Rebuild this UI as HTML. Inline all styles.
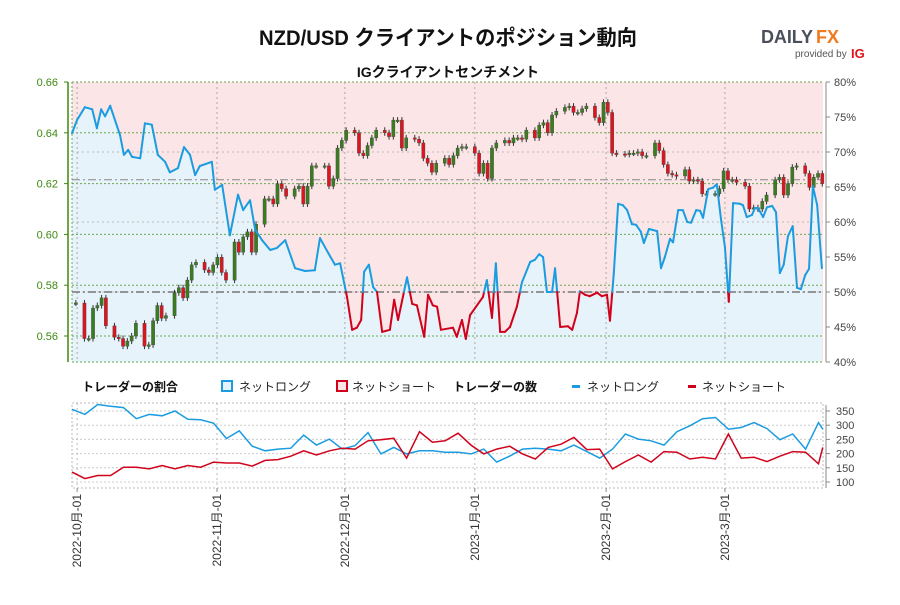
<!DOCTYPE html>
<html><head><meta charset="utf-8">
<style>
html,body{margin:0;padding:0;background:#fff;}
body{width:900px;height:600px;overflow:hidden;font-family:"Liberation Sans","Noto Sans CJK JP",sans-serif;}
svg text{font-family:"Liberation Sans","Noto Sans CJK JP",sans-serif;}
</style></head>
<body>
<svg id="chart" width="900" height="600" viewBox="0 0 900 600" xmlns="http://www.w3.org/2000/svg">
  <text x="448" y="45" text-anchor="middle" font-size="21" font-weight="bold" fill="#111" textLength="378" lengthAdjust="spacingAndGlyphs">NZD/USD クライアントのポジション動向</text>
  <g>
    <text x="761" y="43" font-size="18" font-weight="bold" fill="#4a4f5a" textLength="52" lengthAdjust="spacing">DAILY</text>
    <text x="816" y="43" font-size="18" font-weight="bold" fill="#f07a1e">FX</text>
    <text x="795" y="57" font-size="10" fill="#555">provided by</text>
    <text x="851" y="58" font-size="13" font-weight="bold" fill="#e3121b">IG</text>
  </g>
  <text x="448" y="77" text-anchor="middle" font-size="14" font-weight="bold" fill="#111">IGクライアントセンチメント</text>
  <g id="main"></g>
  <g id="legend">
    <text x="82" y="391" font-size="12" font-weight="bold" fill="#111">トレーダーの割合</text>
    <rect x="222" y="381" width="10" height="10" fill="#e6f3fb" stroke="#1b9ce0" stroke-width="2"/>
    <text x="239" y="391" font-size="12" fill="#222">ネットロング</text>
    <rect x="337" y="381" width="10" height="10" fill="#fbe5e6" stroke="#d0021b" stroke-width="2"/>
    <text x="352" y="391" font-size="12" fill="#222">ネットショート</text>
    <text x="453" y="391" font-size="12" font-weight="bold" fill="#111">トレーダーの数</text>
    <rect x="572" y="385" width="8" height="3" fill="#1b9ce0"/>
    <text x="587" y="391" font-size="12" fill="#222">ネットロング</text>
    <rect x="688" y="385" width="8" height="3" fill="#d0021b"/>
    <text x="702" y="391" font-size="12" fill="#222">ネットショート</text>
  </g>
  <g id="lower"></g>
</svg>
<script>
// ---- data ----
const priceTicks = [0.56, 0.58, 0.60, 0.62, 0.64, 0.66];
const pctTicks = [40, 45, 50, 55, 60, 65, 70, 75, 80];
const countTicks = [100, 150, 200, 250, 300, 350];
const monthLabels = ["2022-10月-01","2022-11月-01","2022-12月-01","2023-1月-01","2023-2月-01","2023-3月-01"];
const monthDays = [1.2, 33.8, 63.6, 93.9, 124.5, 152.2];
const lastPrice = 0.6215;
const closes = [0.573,0.559,0.559,0.571,0.572,0.575,0.564,0.5595,0.559,0.556,
0.558,0.560,0.565,0.556,0.5565,0.566,0.572,0.567,0.568,0.577,
0.579,0.575,0.582,0.588,0.589,0.586,0.585,0.588,0.591,0.585,
0.582,0.597,0.593,0.599,0.601,0.593,0.604,0.614,0.614,0.612,
0.620,0.618,0.615,0.618,0.619,0.612,0.619,0.627,0.627,0.627,
0.619,0.622,0.634,0.637,
0.641,0.640,0.632,0.631,0.635,0.638,0.641,0.640,0.6385,0.645,
0.645,0.634,0.638,0.6375,0.636,0.630,0.628,0.6245,0.628,0.630,
0.6275,0.631,0.634,0.6345,0.6345,0.632,0.624,0.628,0.622,0.634,
0.636,0.637,0.636,0.638,0.638,0.6375,0.641,0.638,0.643,0.644,
0.640,0.647,0.6485,0.650,0.6505,0.648,0.648,0.6495,0.6505,0.646,
0.644,0.652,0.648,0.632,
0.6317,0.6315,0.632,0.632,0.6325,0.631,0.631,0.636,0.633,0.6275,
0.624,0.6235,0.623,0.6255,0.621,0.6215,0.621,0.616,0.616,0.616,
0.618,0.625,0.6215,0.6215,0.6205,0.619,0.610,0.6105,0.610,0.613,
0.6155,0.6215,0.6225,0.6155,0.620,0.6265,0.627,0.624,0.6185,0.6225,
0.624,0.620];
const sentDays = [0,1.2,3,4.7,5.8,6.8,7.7,8.9,11.2,12.1,13.1,14,15.9,17,18.6,20,21.7,22.8,24.7,26.1,27.5,28.7,29.8,32.6,33.3,35,36.8,38.7,39.9,41.5,42.7,44.3,46.2,47.8,49.7,52,54.3,56.6,57.8,59.7,61.3,62.5,64.1,65.3,66.4,67.4,68.1,69.2,70.2,71.1,72.3,74.1,75.1,76,78.1,79.3,80.4,82.1,83,84.1,85.1,86,88.8,89.7,90.9,91.8,92.8,95.8,96.7,97.9,98.8,99.8,100.9,102.1,103.7,104.9,106.8,107.9,108.9,109.8,110.7,111.9,112.6,113.8,115.6,116.6,117.7,118.4,119.6,120.7,122.4,123.5,124.7,125.4,126.3,127.3,128.4,129.4,130.5,131.5,132.6,133.3,134.5,136.4,137.3,138.2,139.4,140.1,141.3,142.4,143.4,144.3,145.5,146.4,147.1,148.3,149.4,150.3,151.3,152.2,153.1,154.1,155.7,156.4,157.3,158.5,159.2,159.9,161.1,162,163.2,164.1,165,165.9,166.9,168,169,169.9,170.9,171.8,172.7,173.7,174.8];
const sentLong = [72.7,74.6,76.4,76.1,73.4,76.1,75.1,76.6,72.4,69.6,70.3,69.3,69.1,74.1,73.9,69.6,68.6,67.1,67.7,70.7,69.6,66.7,68,68.6,64.6,65.3,58.1,63.9,61.7,63.1,58.9,57.4,56,56.3,57.4,53.4,53,53.1,57.7,55.6,53.9,54.1,49.3,44.6,44.9,46,52.9,53.9,50.7,50,44.3,44.6,48.9,46,52.1,48.3,48.1,43.6,49.6,48.1,47.9,44.6,44.9,43.6,46,43.3,46.7,49.3,51.7,46.3,54.1,44.3,44.3,45,47.9,51.4,54.3,54.6,55.4,55,50,50,53.4,45,45.1,44.6,47,50.1,49.6,49.4,49.9,49.4,49.6,45.9,52.7,62.6,62.4,61.7,59.7,59.6,58.6,57,59,58.7,53.4,55,57.6,57.1,61.7,61.7,60,59.9,61.7,61.6,60.6,64.7,64.9,65.4,60.3,56.4,48.6,62.7,62.6,62.4,60.7,61,62,62,60.7,62.1,62.3,61.4,52.7,53.9,58,59.4,50.6,50.4,52.4,53.3,65.1,62.4,53.4];
const countDays = [0,3,6,9,12,15,18,21,24,27,30,33,36,39,42,45,48,51,54,57,60,63,66,69,72,75,78,81,84,87,90,93,96,99,102,105,108,111,114,117,120,123,126,129,132,135,138,141,144,147,150,153,156,159,162,165,168,171,174,175];
const longCount = [356,338,373,367,362,323,338,333,350,321,319,307,253,280,226,210,216,219,265,230,251,216,228,274,199,222,199,210,210,205,205,199,216,170,191,216,219,216,210,230,207,184,216,269,251,245,230,277,298,323,327,286,292,309,288,249,269,216,309,286];
const shortCount = [135,112,123,123,152,152,146,158,146,158,152,170,167,167,156,176,179,191,210,195,210,219,216,245,249,254,184,277,240,245,272,230,199,216,226,199,181,222,233,257,214,216,146,172,195,170,207,205,181,187,181,269,184,187,172,191,207,205,164,222];

// ---- scales ----
const X0 = 72, X1 = 823;
const xS = d => X0 + d * 4.29;
const yP = p => 82 + (0.66 - p) * 2540;
const yPct = v => 82 + (80 - v) * 7;
const yC = c => 411 + (350 - c) * 0.284;
const NS = "http://www.w3.org/2000/svg";
function mk(tag, attrs, parent){ const e = document.createElementNS(NS, tag); for (const k in attrs) e.setAttribute(k, attrs[k]); parent.appendChild(e); return e; }

const main = document.getElementById('main');
const bg = mk('rect', {x:X0, y:82, width:X1-X0, height:280, fill:'#fbe5e6'}, main);



let poly = sentDays.map((d,i)=>xS(d).toFixed(1)+','+yPct(sentLong[i]).toFixed(1)).join(' ');
poly += ' ' + xS(sentDays[sentDays.length-1]).toFixed(1) + ',362 ' + xS(sentDays[0]).toFixed(1) + ',362';
const area = mk('polygon', {points:poly, fill:'#e6f3fb'}, main);



pctTicks.forEach(v=>{ if(v%10===0 && v>40 && v<80){ const g=mk('line',{x1:X0,x2:X1,y1:yPct(v),y2:yPct(v),stroke:'#bbb','stroke-dasharray':'2,3','stroke-width':1},main);
  
   }});
priceTicks.forEach(p=>{ const g=mk('line',{x1:X0,x2:X1,y1:yP(p),y2:yP(p),stroke:'#6aa84f','stroke-dasharray':'2,2','stroke-width':1},main);
  
   });
mk('line',{x1:X0,x2:X1,y1:362,y2:362,stroke:'#6aa84f','stroke-dasharray':'2,2'},main);
mk('line',{x1:X0,x2:X0,y1:82,y2:362,stroke:'#6aa84f','stroke-dasharray':'2,2'},main);
monthDays.forEach(d=>{ const g=mk('line',{x1:xS(d),x2:xS(d),y1:82,y2:362,stroke:'#aaa','stroke-dasharray':'2,3'},main);
  
   });
const r1 = mk('line',{x1:X0,x2:X1,y1:yPct(50),y2:yPct(50),stroke:'#777','stroke-width':1.5,'stroke-dasharray':'8,3,2,3'},main);


const r2 = mk('line',{x1:X0,x2:X1,y1:yP(lastPrice),y2:yP(lastPrice),stroke:'#888','stroke-width':1,'stroke-dasharray':'8,3,2,3'},main);



let day = 0; const cDays = [];
for (let i=0;i<closes.length;i++){ if (day%7===1) day++; cDays.push(day); day++; }
closes.forEach((c,i)=>{
  const o = i===0 ? c : closes[i-1];
  const x = xS(cDays[i] + 0.9);
  const up = c >= o;
  const top = yP(Math.max(o,c)), bot = yP(Math.min(o,c));
  const w = mk('line',{x1:x,x2:x,y1:top-3,y2:bot+3,stroke:'#333','stroke-width':1},main);
  
  
  const b = mk('rect',{x:x-1.6,y:top,width:3.2,height:Math.max(1.5,bot-top),fill:up?'#3a7d1f':'#e0141e',stroke:'#444','stroke-width':0.4},main);
  
  
});

for (let i=1;i<sentDays.length;i++){
  const x0=xS(sentDays[i-1]), y0=sentLong[i-1], x1=xS(sentDays[i]), y1=sentLong[i];
  const segs=[];
  if ((y0<50)!==(y1<50)){ const t=(50-y0)/(y1-y0); const xm=x0+t*(x1-x0); segs.push([x0,y0,xm,50,y0<50]); segs.push([xm,50,x1,y1,y1<50]); }
  else segs.push([x0,y0,x1,y1,y0<50]);
  segs.forEach(s=>{ const l=mk('line',{x1:s[0],y1:yPct(s[1]),x2:s[2],y2:yPct(s[3]),stroke:s[4]?'#d0021b':'#1b9ce0','stroke-width':2,'stroke-linecap':'round'},main);
    
     });
}

mk('line',{x1:68,x2:68,y1:82,y2:362,stroke:'#3c8a0e','stroke-width':1.5},main);
priceTicks.forEach(p=>{ mk('line',{x1:64,x2:68,y1:yP(p),y2:yP(p),stroke:'#3c8a0e'},main);
  const t=mk('text',{x:58,y:yP(p)+4,'text-anchor':'end','font-size':11,fill:'#3c8a0e'},main); t.textContent=p.toFixed(2);
  
   });
mk('line',{x1:826,x2:826,y1:82,y2:362,stroke:'#888','stroke-width':1},main);
pctTicks.forEach(v=>{ mk('line',{x1:826,x2:830,y1:yPct(v),y2:yPct(v),stroke:'#888'},main);
  const t=mk('text',{x:834,y:yPct(v)+4,'font-size':11,fill:'#444'},main); t.textContent=v+'%';
  
   });

const low = document.getElementById('lower');
mk('rect',{x:X0,y:403,width:X1-X0,height:85,fill:'none',stroke:'#bbb','stroke-dasharray':'2,2'},low);
countTicks.forEach(c=>{ const g=mk('line',{x1:X0,x2:X1,y1:yC(c),y2:yC(c),stroke:'#ccc','stroke-dasharray':'2,2'},low);
  
  
  mk('line',{x1:826,x2:830,y1:yC(c),y2:yC(c),stroke:'#888'},low);
  const t=mk('text',{x:836,y:yC(c)+4,'font-size':11,fill:'#444'},low); t.textContent=c;
  
   });
mk('line',{x1:826,x2:826,y1:405,y2:488,stroke:'#888'},low);
monthDays.forEach((d,i)=>{ const g=mk('line',{x1:xS(d),x2:xS(d),y1:403,y2:488,stroke:'#bbb','stroke-dasharray':'2,3'},low);
  
  
  mk('line',{x1:xS(d),x2:xS(d),y1:488,y2:492,stroke:'#888'},low);
  const t=mk('text',{x:0,y:0,'text-anchor':'end','font-size':12,fill:'#333',transform:'translate('+(xS(d)+4)+',494) rotate(-90)'},low);
  t.textContent=monthLabels[i];
  
   });
const lp = mk('polyline',{points:countDays.map((d,i)=>xS(d).toFixed(1)+','+yC(longCount[i]).toFixed(1)).join(' '),fill:'none',stroke:'#1b9ce0','stroke-width':1.5},low);


const sp = mk('polyline',{points:countDays.map((d,i)=>xS(d).toFixed(1)+','+yC(shortCount[i]).toFixed(1)).join(' '),fill:'none',stroke:'#d0021b','stroke-width':1.5},low);


</script>
</body></html>
